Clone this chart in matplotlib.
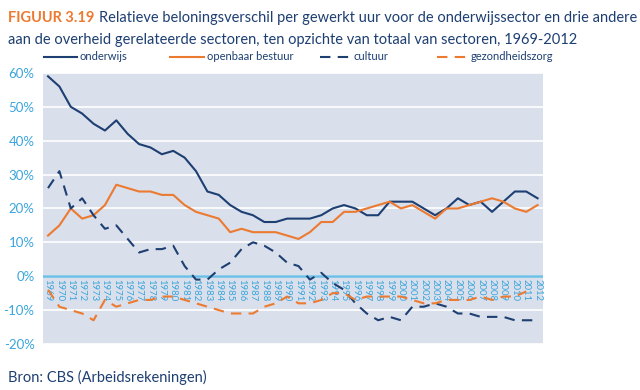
import numpy as np
import matplotlib.pyplot as plt
from matplotlib.lines import Line2D

years = list(range(1969, 2013))

onderwijs = [59, 56, 50, 48, 45, 43, 46, 42, 39, 38, 36, 37, 35, 31, 25, 24, 21, 19, 18, 16,
             16, 17, 17, 17, 18, 20, 21, 20, 18, 18, 22, 22, 22, 20, 18, 20, 23, 21, 22, 19,
             22, 25, 25, 23]
openbaar_bestuur = [12, 15, 20, 17, 18, 21, 27, 26, 25, 25, 24, 24, 21, 19, 18, 17, 13, 14, 13, 13,
                    13, 12, 11, 13, 16, 16, 19, 19, 20, 21, 22, 20, 21, 19, 17, 20, 20, 21, 22, 23,
                    22, 20, 19, 21]
cultuur = [26, 31, 20, 23, 18, 14, 15, 11, 7, 8, 8, 9, 3, -1, -1, 2, 4, 8, 10, 9,
           7, 4, 3, -1, 1, -2, -4, -8, -11, -13, -12, -13, -9, -9, -8, -9, -11, -11, -12, -12,
           -12, -13, -13, -13]
gezondheidszorg = [-4, -9, -10, -11, -13, -7, -9, -8, -7, -7, -6, -6, -7, -8, -9, -10, -11, -11, -11, -9,
                   -8, -6, -8, -8, -7, -5, -5, -7, -6, -6, -6, -6, -7, -8, -8, -7, -7, -7, -6, -7,
                   -6, -6, -4.5, np.nan]

navy = '#1d3f72'
orange = '#ec7a30'
light_blue = '#3aa5dc'
bg = '#d9dfeb'
dash = (0, (5, 3.5))

plt.rcParams['font.family'] = ['Lato', 'DejaVu Sans']

fig = plt.figure(figsize=(6.4, 3.9), dpi=100)
ax = fig.add_axes([0.067, 0.118, 0.781, 0.695])
ax.set_facecolor(bg)

series = [
    ('onderwijs', onderwijs, navy, '-'),
    ('openbaar bestuur', openbaar_bestuur, orange, '-'),
    ('cultuur', cultuur, navy, dash),
    ('gezondheidszorg', gezondheidszorg, orange, dash),
]
for name, vals, col, ls in series:
    ax.plot(years, vals, color=col, lw=1.5, linestyle=ls, label=name)

ax.set_xlim(1968.55, 2012.45)
ax.set_ylim(-20, 60)
ax.set_yticks(range(-20, 61, 10))
ax.set_yticklabels([f'{v}%' for v in range(-20, 61, 10)], color=light_blue, fontsize=9.5)
ax.set_xticks([])
ax.tick_params(axis='y', length=0, pad=6)
for s in ax.spines.values():
    s.set_visible(False)
ax.grid(axis='y', color='white', lw=1.2)
ax.set_axisbelow(True)
ax.axhline(0, color='#6cc0e8', lw=1.8, zorder=1)

for y in years:
    ax.text(y, -0.8, str(y), rotation=270, ha='center', va='top', fontsize=6.8,
            color=light_blue, zorder=0.5)

# legend drawn by hand (positions in figure pixels)
leg_x = [44, 170, 320, 437]
leg_w = [33, 34, 30, 31]
leg_y = 1 - 57 / 390
for (name, vals, col, ls), x0, w in zip(series, leg_x, leg_w):
    fig.add_artist(Line2D([x0 / 640, (x0 + w) / 640], [leg_y, leg_y], color=col, lw=1.5,
                          linestyle=ls, transform=fig.transFigure))
    fig.text((x0 + w + 3) / 640, leg_y, name, color=navy, fontsize=8, va='center')

fig.text(0.012, 0.943, 'FIGUUR 3.19', color=orange, fontsize=10.5, fontweight='bold')
fig.text(0.155, 0.943, 'Relatieve beloningsverschil per gewerkt uur voor de onderwijssector en drie andere',
         color=navy, fontsize=10.5)
fig.text(0.012, 0.888, 'aan de overheid gerelateerde sectoren, ten opzichte van totaal van sectoren, 1969-2012',
         color=navy, fontsize=10.5)
fig.text(0.012, 0.02, 'Bron: CBS (Arbeidsrekeningen)', color=navy, fontsize=10.5)

fig.savefig('out.png', dpi=100)
